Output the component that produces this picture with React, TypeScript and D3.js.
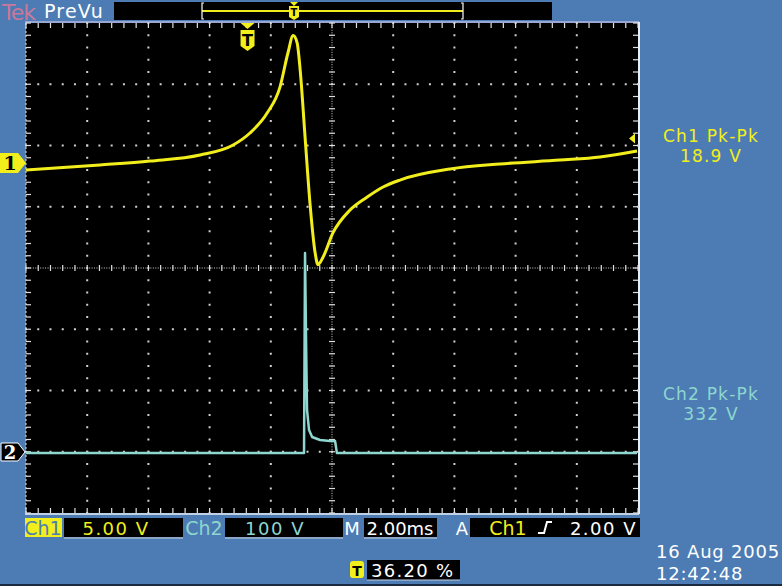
import React from "react";
import * as d3 from "d3";

// Ch1 trace: time (ms, relative to trigger) and voltage (V)
const ch1Time = [-7.24, -4.82, -3.19, -1.55, -0.47, 0.08, 0.64, 1.06, 1.32, 1.49, 1.62, 1.72, 1.88, 2.04, 2.21, 2.3, 2.47, 2.79, 3.35, 3.91, 4.43, 4.98, 6.62, 8.25, 10.21, 11.52, 12.73];
const ch1Volt = [-0.57, -0.16, 0.16, 0.65, 1.47, 2.45, 4.08, 6.2, 8.98, 10.4, 9.8, 7.59, 2.12, -3.27, -7.35, -8.3, -7.67, -5.71, -3.84, -2.78, -1.96, -1.39, -0.49, -0.08, 0.24, 0.49, 0.98];
// Ch2 trace
const ch2Time = [-7.24, 1.846, 1.879, 1.912, 1.944, 2.01, 2.11, 2.37, 2.7, 2.86, 2.92, 12.73];
const ch2Volt = [-1.6, -1.6, 324.9, 182.9, 68.6, 35.9, 24.5, 19.6, 18.0, 18.0, -1.6, -1.6];

const ch1Readout = ["Ch1 Pk-Pk", "18.9 V"];
const ch2Readout = ["Ch2 Pk-Pk", "332 V"];
const statusTexts = { ch1Scale: "5.00 V", ch2Scale: "100 V", time: "2.00ms", trigLevel: "2.00 V", trigPos: "36.20 %", date: "16 Aug 2005", clock: "12:42:48" };

const BG = "#4c7cb3";
const YEL = "#f2ee1c";
const CYAN = "#8ed6cf";

export default function App() {
  const L = 26, R = 638, T = 23, B = 513;
  const x = d3.scaleLinear().domain([-7.24, 12.76]).range([L, R]);
  const y1 = d3.scaleLinear().domain([-28.57, 11.43]).range([B, T]);
  const y2 = d3.scaleLinear().domain([-99.6, 700.4]).range([B, T]);
  const dx = (R - L) / 10, dy = (B - T) / 8;
  const cx = L + dx * 5, cy = T + dy * 4;

  const line1 = d3.line<number>().x((_, i) => x(ch1Time[i])).y((v) => y1(v)).curve(d3.curveMonotoneX);
  const line2 = d3.line<number>().x((_, i) => x(ch2Time[i])).y((v) => y2(v)).curve(d3.curveLinear);

  const dots: JSX.Element[] = [];
  for (let i = 1; i < 10; i++) {
    if (i === 5) continue;
    const gx = L + i * dx;
    for (let k = 0; k <= 40; k++) {
      const gy = T + k * dy / 5;
      dots.push(<rect key={`v${i}-${k}`} x={gx - 1} y={gy - 1} width={2} height={2} fill="#d0d0d0" />);
    }
  }
  for (let j = 1; j < 8; j++) {
    if (j === 4) continue;
    const gy = T + j * dy;
    for (let k = 0; k <= 50; k++) {
      const gx = L + k * dx / 5;
      dots.push(<rect key={`h${j}-${k}`} x={gx - 1} y={gy - 1} width={2} height={2} fill="#d0d0d0" />);
    }
  }
  for (let k = 0; k <= 250; k++) {
    const gx = L + k * dx / 25;
    dots.push(<rect key={`cx${k}`} x={gx - 0.5} y={cy - 0.5} width={1} height={1} fill="#cfcfcf" />);
  }
  for (let k = 0; k <= 200; k++) {
    const gy = T + k * dy / 25;
    dots.push(<rect key={`cy${k}`} x={cx - 0.5} y={gy - 0.5} width={1} height={1} fill="#cfcfcf" />);
  }
  for (let k = 0; k <= 50; k++) {
    const gx = L + k * dx / 5;
    dots.push(<line key={`ctx${k}`} x1={gx} x2={gx} y1={cy - 3} y2={cy + 3} stroke="#e0e0e0" strokeWidth={1.2} />);
    dots.push(<line key={`ttx${k}`} x1={gx} x2={gx} y1={T} y2={T + 5} stroke="#e0e0e0" strokeWidth={1.2} />);
    dots.push(<line key={`btx${k}`} x1={gx} x2={gx} y1={B - 5} y2={B} stroke="#e0e0e0" strokeWidth={1.2} />);
  }
  for (let k = 0; k <= 40; k++) {
    const gy = T + k * dy / 5;
    dots.push(<line key={`cty${k}`} x1={cx - 3} x2={cx + 3} y1={gy} y2={gy} stroke="#e0e0e0" strokeWidth={1.2} />);
    dots.push(<line key={`lty${k}`} x1={L} x2={L + 5} y1={gy} y2={gy} stroke="#e0e0e0" strokeWidth={1.2} />);
    dots.push(<line key={`rty${k}`} x1={R - 5} x2={R} y1={gy} y2={gy} stroke="#e0e0e0" strokeWidth={1.2} />);
  }

  const trigX = x(0);
  const font = "'DejaVu Sans', sans-serif";

  return (
    <svg width={782} height={586} style={{ position: "absolute", left: 0, top: 0 }} xmlns="http://www.w3.org/2000/svg">
      <rect x={0} y={0} width={782} height={586} fill={BG} />
      {/* top bar */}
      <text x={2} y={20} fontFamily={font} fontSize={22} fill="#c9789b" letterSpacing={-1}>Tek</text>
      <text x={44} y={18} fontFamily={font} fontSize={19} fill="#ffffff" letterSpacing={1.2}>PreVu</text>
      <rect x={114} y={2} width={438} height={18} fill="#000" />
      <line x1={202} x2={463} y1={11} y2={11} stroke={YEL} strokeWidth={2} />
      <path d="M204,3 H202 V19 H204" stroke="#fff" fill="none" strokeWidth={1.2} />
      <path d="M461,3 H463 V19 H461" stroke="#fff" fill="none" strokeWidth={1.2} />
      <path d="M290,2 L298,2 L294,6 Z" fill={YEL} />
      <path d="M289,6 H299 V17 L294,20 L289,17 Z" fill={YEL} />
      <text x={294} y={16} textAnchor="middle" fontFamily={font} fontWeight="bold" fontSize={10} fill="#000">T</text>

      {/* plot area */}
      <rect x={L} y={T} width={R - L} height={B - T} fill="#000" />
      <line x1={L - 1} x2={R + 1} y1={T - 1} y2={T - 1} stroke="#b4b6e0" strokeWidth={1.5} />
      <line x1={R + 1} x2={R + 1} y1={T - 1} y2={B + 1} stroke="#e8eef5" strokeWidth={2} />
      <line x1={L - 1} x2={R + 1} y1={B + 1} y2={B + 1} stroke="#e8eef5" strokeWidth={1.5} />
      <line x1={L} x2={L} y1={T} y2={B} stroke="#dcdcf0" strokeWidth={1} strokeDasharray="2,2" />
      {dots}

      {/* traces */}
      <path d={line2(ch2Volt) || ""} fill="none" stroke={CYAN} strokeWidth={2.5} strokeLinejoin="round" />
      <path d={line1(ch1Volt) || ""} fill="none" stroke={YEL} strokeWidth={3} strokeLinejoin="round" />

      {/* trigger marker on plot */}
      <path d={`M${trigX - 7},${T} L${trigX + 7},${T} L${trigX},${T + 6} Z`} fill={YEL} />
      <path d={`M${trigX - 7},${T + 7} H${trigX + 7} V${T + 23} L${trigX},${T + 28} L${trigX - 7},${T + 23} Z`} fill={YEL} />
      <text x={trigX} y={T + 23} textAnchor="middle" fontFamily={font} fontWeight="bold" fontSize={16} fill="#000">T</text>
      <path d={`M${R - 9},${y1(2)} L${R - 3},${y1(2) - 5} L${R - 3},${y1(2) + 5} Z`} fill={YEL} />

      {/* channel ground markers */}
      <path d={`M0,${y1(0) - 10} H18 L26,${y1(0)} L18,${y1(0) + 10} H0 Z`} fill={YEL} />
      <text x={10} y={y1(0) + 7} textAnchor="middle" fontFamily="'DejaVu Serif', serif" fontWeight="bold" fontSize={19} fill="#000">1</text>
      <path d={`M1,${y2(0) - 9} H18 L25,${y2(0)} L18,${y2(0) + 9} H1 Z`} fill="#000" stroke="#fff" strokeWidth={1} />
      <text x={10} y={y2(0) + 7} textAnchor="middle" fontFamily="'DejaVu Serif', serif" fontWeight="bold" fontSize={18} fill="#ffffff">2</text>

      {/* right readouts */}
      <text x={711} y={142} textAnchor="middle" fontFamily={font} fontSize={17} fill={YEL} letterSpacing={1.2}>{ch1Readout[0]}</text>
      <text x={711} y={162} textAnchor="middle" fontFamily={font} fontSize={17} fill={YEL} letterSpacing={1.2}>{ch1Readout[1]}</text>
      <text x={711} y={400} textAnchor="middle" fontFamily={font} fontSize={17} fill={CYAN} letterSpacing={1.2}>{ch2Readout[0]}</text>
      <text x={711} y={420} textAnchor="middle" fontFamily={font} fontSize={17} fill={CYAN} letterSpacing={1.2}>{ch2Readout[1]}</text>

      {/* status bar */}
      <rect x={25} y={518} width={37} height={19} fill={YEL} />
      <text x={43} y={535} textAnchor="middle" fontFamily={font} fontSize={19} fill={BG}>Ch1</text>
      <rect x={64} y={518} width={119} height={19} fill="#000" />
      <line x1={64} x2={183} y1={538} y2={538} stroke="#c8d0e0" strokeWidth={1} />
      <text x={116} y={535} textAnchor="middle" fontFamily={font} fontSize={18} fill={YEL} letterSpacing={1.5}>{statusTexts.ch1Scale}</text>
      <text x={204} y={535} textAnchor="middle" fontFamily={font} fontSize={19} fill={CYAN}>Ch2</text>
      <rect x={225} y={518} width={118} height={19} fill="#000" />
      <line x1={225} x2={343} y1={538} y2={538} stroke="#c8d0e0" strokeWidth={1} />
      <text x={275} y={535} textAnchor="middle" fontFamily={font} fontSize={18} fill={CYAN} letterSpacing={1.5}>{statusTexts.ch2Scale}</text>
      <text x={352} y={535} textAnchor="middle" fontFamily={font} fontSize={18} fill="#fff">M</text>
      <rect x={364} y={518} width={73} height={19} fill="#000" />
      <line x1={364} x2={437} y1={538} y2={538} stroke="#c8d0e0" strokeWidth={1} />
      <text x={400} y={535} textAnchor="middle" fontFamily={font} fontSize={18} fill="#fff">{statusTexts.time}</text>
      <text x={462} y={535} textAnchor="middle" fontFamily={font} fontSize={18} fill="#fff">A</text>
      <rect x={470} y={518} width={170} height={19} fill="#000" />
      <text x={508} y={535} textAnchor="middle" fontFamily={font} fontSize={19} fill={YEL}>Ch1</text>
      <path d="M538,533 H544 L547,522 H552" fill="none" stroke="#fff" strokeWidth={2} />
      <text x={637} y={535} textAnchor="end" fontFamily={font} fontSize={18} fill="#fff" letterSpacing={1.5}>{statusTexts.trigLevel}</text>

      {/* trigger position */}
      <rect x={350} y={561} width={14} height={17} rx={3} fill={YEL} />
      <text x={357} y={576} textAnchor="middle" fontFamily={font} fontWeight="bold" fontSize={14} fill="#000">T</text>
      <rect x={367} y={560} width={93} height={20} fill="#000" />
      <line x1={367} x2={460} y1={580} y2={580} stroke="#c8d0e0" strokeWidth={1} />
      <text x={371} y={577} fontFamily={font} fontSize={18} fill="#fff" letterSpacing={1.3}>{statusTexts.trigPos}</text>

      {/* date/time */}
      <text x={656} y={558} fontFamily={font} fontSize={18} fill="#fff" letterSpacing={0.8}>{statusTexts.date}</text>
      <text x={656} y={580} fontFamily={font} fontSize={18} fill="#fff" letterSpacing={0.8}>{statusTexts.clock}</text>
      <rect x={0} y={584} width={782} height={2} fill="#1a2a40" />
    </svg>
  );
}
